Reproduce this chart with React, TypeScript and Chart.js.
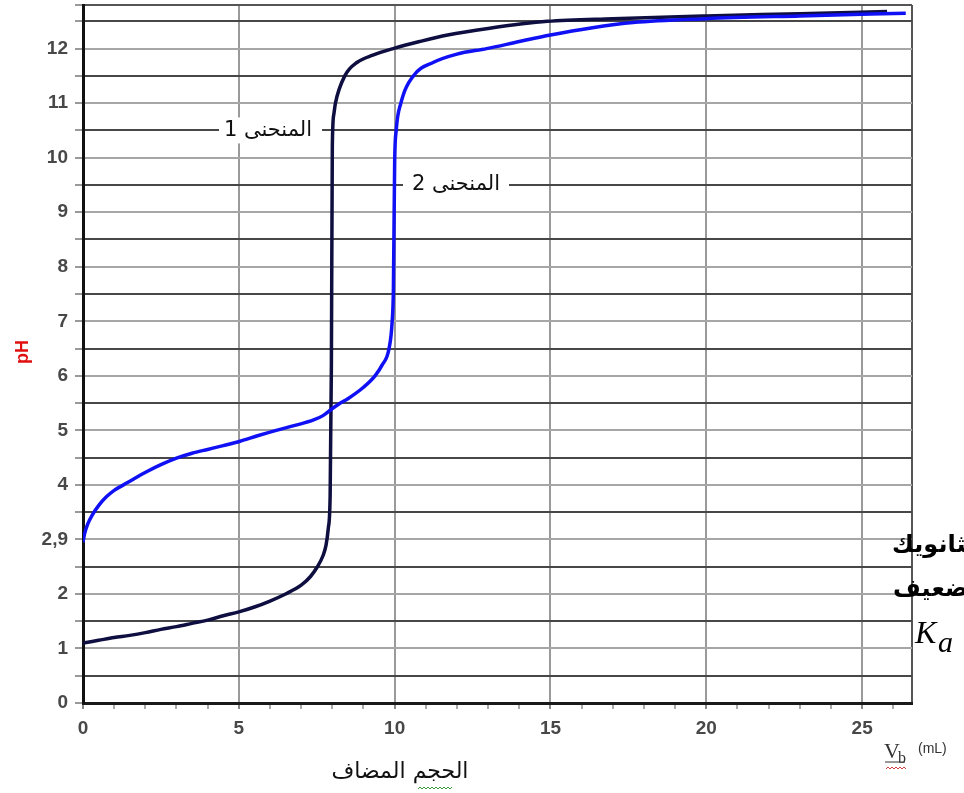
import React, { useEffect, useRef } from "react";
import { Chart, registerables } from "chart.js";

Chart.register(...registerables);

// Curve 1 (strong acid) — volume (mL) and pH
const v1 = [0, 0.5, 1, 1.5, 2, 2.5, 3, 3.5, 4, 4.5, 5, 5.5, 6, 6.5, 7, 7.3, 7.5, 7.7, 7.8, 7.87, 7.93, 7.97, 8.0, 8.05, 8.1, 8.4, 8.8, 9.3, 9.95, 10.8, 11.7, 13, 14.9, 17, 20, 23, 25.8];
const pH1 = [1.1, 1.15, 1.2, 1.24, 1.29, 1.35, 1.4, 1.46, 1.52, 1.6, 1.67, 1.76, 1.87, 2.0, 2.16, 2.32, 2.48, 2.7, 2.9, 3.2, 3.8, 6.2, 10.2, 10.8, 11.0, 11.5, 11.75, 11.88, 12.0, 12.13, 12.25, 12.37, 12.5, 12.55, 12.6, 12.64, 12.68];

// Curve 2 (weak acid) — volume (mL) and pH
const v2 = [0, 0.05, 0.15, 0.3, 0.5, 0.75, 1.0, 1.3, 1.6, 2.04, 2.5, 3.0, 3.5, 4.0, 4.5, 5.04, 5.6, 6.2, 6.8, 7.4, 7.7, 8.0, 8.2, 8.5, 9.0, 9.37, 9.6, 9.82, 9.92, 9.96, 10.0, 10.05, 10.2, 10.6, 11.25, 12.0, 12.95, 14, 15, 16.3, 17.65, 20, 23, 26.4];
const pH2 = [2.95, 3.1, 3.28, 3.45, 3.62, 3.78, 3.9, 4.0, 4.1, 4.24, 4.37, 4.49, 4.58, 4.65, 4.72, 4.8, 4.9, 5.0, 5.09, 5.19, 5.27, 5.4, 5.48, 5.58, 5.79, 6.0, 6.2, 6.5, 7.0, 7.6, 9.9, 10.5, 11.0, 11.5, 11.75, 11.9, 12.0, 12.13, 12.25, 12.38, 12.48, 12.55, 12.6, 12.65];

// Tick values
const yTickValues = [0, 0.5, 1, 1.5, 2, 2.5, 3, 3.5, 4, 4.5, 5, 5.5, 6, 6.5, 7, 7.5, 8, 8.5, 9, 9.5, 10, 10.5, 11, 11.5, 12, 12.5, 12.8];
const yTickLabels: Record<string, string> = { "0": "0", "1": "1", "2": "2", "3": "2,9", "4": "4", "5": "5", "6": "6", "7": "7", "8": "8", "9": "9", "10": "10", "11": "11", "12": "12" };
const xTickValues = [0, 1, 2, 3, 4, 5, 6, 7, 8, 9, 10, 11, 12, 13, 14, 15, 16, 17, 18, 19, 20, 21, 22, 23, 24, 25, 26, 26.6];
const xTickLabels: Record<string, string> = { "0": "0", "5": "5", "10": "10", "15": "15", "20": "20", "25": "25" };

const curve1Label = "المنحنى 1";
const curve2Label = "المنحنى 2";
const xTitle = "الحجم المضاف";
const sideLine1 = "الإيثانويك";
const sideLine2 = "ضعيف";

const Y_MAX = 12.8;
const X_MAX = 26.6;

function zigzag(ctx: CanvasRenderingContext2D, x0: number, x1: number, y: number, color: string) {
  ctx.save();
  ctx.strokeStyle = color;
  ctx.lineWidth = 1;
  ctx.beginPath();
  let up = true;
  ctx.moveTo(x0, y);
  for (let x = x0 + 2; x <= x1; x += 2) {
    ctx.lineTo(x, up ? y - 2 : y);
    up = !up;
  }
  ctx.stroke();
  ctx.restore();
}

const textPlugin = {
  id: "textPlugin",
  beforeDatasetsDraw(chart: any) {
    const ctx = chart.ctx as CanvasRenderingContext2D;
    const ys = chart.scales.y;
    ctx.save();
    const l1y = ys.getPixelForValue(10.5);
    const l2y = ys.getPixelForValue(9.5);
    ctx.fillStyle = "#ffffff";
    ctx.fillRect(219, l1y - 13, 103, 26);
    ctx.fillRect(403, l2y - 13, 106, 26);
    ctx.fillStyle = "#111111";
    ctx.font = '21px "DejaVu Sans"';
    ctx.textAlign = "center";
    ctx.textBaseline = "middle";
    (ctx as any).direction = "rtl";
    ctx.fillText(curve1Label, 268, l1y);
    ctx.fillText(curve2Label, 456, l2y);
    ctx.restore();
  },
  afterDraw(chart: any) {
    const ctx = chart.ctx as CanvasRenderingContext2D;
    ctx.save();
    // pH axis title
    ctx.translate(23, 352);
    ctx.rotate(-Math.PI / 2);
    ctx.fillStyle = "#e01010";
    ctx.font = 'bold 18px "Liberation Sans", Arial';
    ctx.textAlign = "center";
    ctx.textBaseline = "middle";
    ctx.fillText("pH", 0, 0);
    ctx.restore();

    ctx.save();
    // x title (Arabic)
    ctx.fillStyle = "#111111";
    ctx.font = '22px "DejaVu Sans"';
    ctx.textAlign = "center";
    ctx.textBaseline = "middle";
    (ctx as any).direction = "rtl";
    ctx.fillText(xTitle, 400, 772);
    (ctx as any).direction = "ltr";
    zigzag(ctx, 418, 452, 789, "#3a9a3a");

    // Vb (mL)
    ctx.textAlign = "left";
    ctx.textBaseline = "alphabetic";
    ctx.font = '22px "Liberation Serif"';
    ctx.fillStyle = "#333333";
    ctx.fillText("V", 884, 758);
    ctx.font = '16px "Liberation Serif"';
    ctx.fillText("b", 898, 763);
    ctx.beginPath();
    ctx.strokeStyle = "#333";
    ctx.lineWidth = 1;
    ctx.moveTo(885, 762);
    ctx.lineTo(905, 762);
    ctx.stroke();
    zigzag(ctx, 886, 906, 769, "#d04040");
    ctx.font = '14px "Liberation Sans", Arial';
    ctx.fillStyle = "#333333";
    ctx.fillText("(mL)", 918, 753);

    // Cut-off side text
    ctx.fillStyle = "#000000";
    ctx.font = 'bold 24px "DejaVu Sans"';
    ctx.textBaseline = "middle";
    (ctx as any).direction = "rtl";
    ctx.textAlign = "left";
    ctx.fillText(sideLine1, 892, 546);
    ctx.fillText(sideLine2, 893, 590);
    (ctx as any).direction = "ltr";
    ctx.font = 'italic 32px "Liberation Serif"';
    ctx.textBaseline = "alphabetic";
    ctx.fillText("K", 915, 643);
    ctx.font = 'italic 30px "Liberation Serif"';
    ctx.fillText("a", 938, 652);
    ctx.restore();
  },
};

export default function App() {
  const ref = useRef<HTMLCanvasElement | null>(null);
  useEffect(() => {
    if (!ref.current) return;
    const d1 = v1.map((x, i) => ({ x, y: pH1[i] }));
    const d2 = v2.map((x, i) => ({ x, y: pH2[i] }));
    const tickFont = { family: '"Liberation Sans", Arial', size: 19, weight: "bold" as const };
    const chart = new Chart(ref.current, {
      type: "scatter",
      data: {
        datasets: [
          {
            label: "curve 2",
            data: d2,
            showLine: true,
            borderColor: "#1010f5",
            borderWidth: 3.5,
            pointRadius: 0,
            cubicInterpolationMode: "monotone",
          } as any,
          {
            label: "curve 1",
            data: d1,
            showLine: true,
            borderColor: "#0e0e40",
            borderWidth: 3.5,
            pointRadius: 0,
            cubicInterpolationMode: "monotone",
          } as any,
        ],
      },
      options: {
        responsive: false,
        animation: false,
        devicePixelRatio: 1,
        layout: { padding: { left: 0, right: 52, top: 5, bottom: 0 } },
        plugins: { legend: { display: false }, tooltip: { enabled: false } },
        scales: {
          x: {
            type: "linear",
            min: 0,
            max: X_MAX,
            afterFit: (s: any) => { s.height = 90; s.paddingLeft = 0; s.paddingRight = 0; },
            afterBuildTicks: (s: any) => { s.ticks = xTickValues.map((v) => ({ value: v })); },
            border: { color: "#1a1a1a", width: 3 },
            grid: {
              color: (c: any) => {
                const v = c.tick ? c.tick.value : 0;
                if (Math.abs(v - X_MAX) < 1e-6) return "#555555";
                return v % 5 === 0 ? "#9a9a9a" : "rgba(0,0,0,0)";
              },
              lineWidth: 2,
              tickColor: (c: any) => {
                const v = c.tick ? c.tick.value : 0;
                if (Math.abs(v - X_MAX) < 1e-6) return "rgba(0,0,0,0)";
                return v % 5 === 0 ? "#888888" : "#aaaaaa";
              },
              tickLength: 6,
            },
            ticks: {
              autoSkip: false,
              maxRotation: 0,
              padding: 8,
              color: "#484848",
              font: tickFont,
              callback: (v: any) => xTickLabels[String(v)] ?? "",
            },
          },
          y: {
            type: "linear",
            min: 0,
            max: Y_MAX,
            afterFit: (s: any) => { s.width = 83; s.paddingTop = 0; s.paddingBottom = 0; },
            afterBuildTicks: (s: any) => { s.ticks = yTickValues.map((v) => ({ value: v })); },
            border: { color: "#111111", width: 3 },
            grid: {
              color: (c: any) => {
                const v = c.tick ? c.tick.value : 0;
                if (Math.abs(v - Y_MAX) < 1e-6) return "#555555";
                return Math.round(v * 2) % 2 === 1 ? "#474747" : "#a6a6a6";
              },
              lineWidth: 2,
              tickColor: "#999999",
              tickLength: 8,
            },
            ticks: {
              autoSkip: false,
              padding: 7,
              color: "#484848",
              font: tickFont,
              callback: (v: any) => yTickLabels[String(v)] ?? "",
            },
          },
        },
      },
      plugins: [textPlugin],
    });
    return () => chart.destroy();
  }, []);
  return (
    <div style={{ position: "fixed", left: 0, top: 0, width: 964, height: 793, background: "#fff" }}>
      <canvas ref={ref} width={964} height={793} style={{ display: "block" }} />
    </div>
  );
}
